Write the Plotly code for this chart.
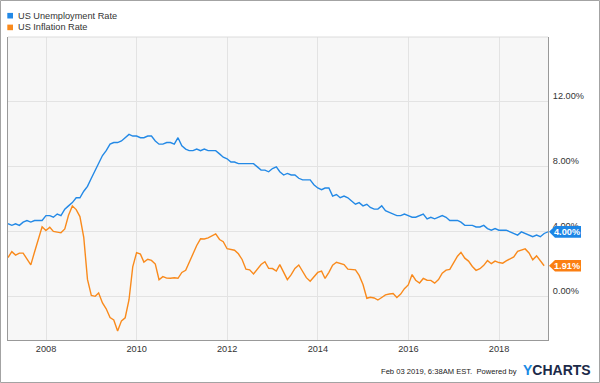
import pandas as pd
import plotly.graph_objects as go

# ---------------- data (monthly, month-end) ----------------
unemp_start, unemp_end = "2007-02-28", "2019-01-31"
infl_start, infl_end = "2007-02-28", "2018-12-31"

unemployment_rate = [
    4.5, 4.4, 4.5, 4.4, 4.6, 4.7, 4.6, 4.7, 4.7, 4.7, 5.0,              # 2007 Feb-Dec
    5.0, 4.9, 5.1, 5.0, 5.4, 5.6, 5.8, 6.1, 6.1, 6.5, 6.8, 7.3,         # 2008
    7.8, 8.3, 8.7, 9.0, 9.4, 9.5, 9.5, 9.6, 9.8, 10.0, 9.9, 9.9,        # 2009
    9.8, 9.8, 9.9, 9.9, 9.6, 9.4, 9.4, 9.5, 9.5, 9.4, 9.8, 9.3,         # 2010
    9.1, 9.0, 9.0, 9.1, 9.0, 9.1, 9.0, 9.0, 9.0, 8.8, 8.6, 8.5,         # 2011
    8.3, 8.3, 8.2, 8.2, 8.2, 8.2, 8.2, 8.0, 7.8, 7.8, 7.7, 7.9,         # 2012
    8.0, 7.7, 7.5, 7.6, 7.5, 7.5, 7.3, 7.2, 7.2, 7.2, 6.9, 6.7,         # 2013
    6.6, 6.7, 6.7, 6.2, 6.3, 6.1, 6.2, 6.1, 5.9, 5.7, 5.8, 5.6,         # 2014
    5.7, 5.5, 5.4, 5.4, 5.6, 5.3, 5.2, 5.1, 5.0, 5.0, 5.1, 5.0,         # 2015
    4.9, 4.9, 5.0, 5.1, 4.8, 4.9, 4.8, 4.9, 5.0, 4.9, 4.7, 4.7,         # 2016
    4.7, 4.6, 4.4, 4.4, 4.4, 4.3, 4.3, 4.4, 4.2, 4.1, 4.2, 4.1,         # 2017
    4.1, 4.1, 4.0, 3.9, 3.8, 4.0, 3.9, 3.8, 3.7, 3.8, 3.7, 3.9,         # 2018
    4.0,                                                                 # 2019 Jan
]

inflation_rate = [
    2.42, 2.78, 2.57, 2.69, 2.69, 2.36, 1.97, 2.76, 3.54, 4.31, 4.08,                 # 2007 Feb-Dec
    4.28, 4.03, 3.98, 3.94, 4.18, 5.02, 5.60, 5.37, 4.94, 3.66, 1.07, 0.09,           # 2008
    0.03, 0.24, -0.38, -0.74, -1.28, -1.43, -2.10, -1.48, -1.29, -0.18, 1.84, 2.72,   # 2009
    2.63, 2.14, 2.31, 2.24, 2.02, 1.05, 1.24, 1.15, 1.14, 1.17, 1.14, 1.50,           # 2010
    1.63, 2.11, 2.68, 3.16, 3.57, 3.56, 3.63, 3.77, 3.87, 3.53, 3.39, 2.96,           # 2011
    2.93, 2.87, 2.65, 2.30, 1.70, 1.66, 1.41, 1.69, 1.99, 2.16, 1.76, 1.74,           # 2012
    1.59, 1.98, 1.47, 1.06, 1.36, 1.75, 1.96, 1.52, 1.18, 0.96, 1.24, 1.50,           # 2013
    1.58, 1.13, 1.51, 1.95, 2.13, 2.07, 1.99, 1.70, 1.66, 1.66, 1.32, 0.76,           # 2014
    -0.09, -0.03, -0.07, -0.20, -0.04, 0.12, 0.17, 0.20, -0.04, 0.17, 0.50, 0.73,     # 2015
    1.37, 1.02, 0.85, 1.13, 1.02, 1.01, 0.84, 1.06, 1.46, 1.64, 1.69, 2.07,           # 2016
    2.50, 2.74, 2.38, 2.20, 1.87, 1.63, 1.73, 1.94, 2.23, 2.04, 2.20, 2.11,           # 2017
    2.07, 2.21, 2.36, 2.46, 2.80, 2.87, 2.95, 2.70, 2.28, 2.52, 2.18, 1.91,           # 2018
]

series_names = ["US Unemployment Rate", "US Inflation Rate"]
y_tick_values = [0, 4, 8, 12]
y_tick_labels = ["0.00%", "4.00%", "8.00%", "12.00%"]
footer_text = "Feb 03 2019, 6:38AM EST.  Powered by"

unemp_dates = pd.date_range(unemp_start, unemp_end, freq="ME")
infl_dates = pd.date_range(infl_start, infl_end, freq="ME")

# ---------------- style ----------------
BLUE = "#2389e6"
ORANGE = "#f98a1c"
BLUE_TAG = "#1c86e6"
ORANGE_TAG = "#fb7f12"
FONT = "Arial, Liberation Sans, sans-serif"
W_FIG, H_FIG = 600, 383
L, R, T, B = 8, 52, 37, 43
PW, PH = W_FIG - L - R, H_FIG - T - B


def fx(px):
    return (px - L) / PW


def fy(py):
    return (T + PH - py) / PH


fig = go.Figure()
fig.add_trace(go.Scatter(x=unemp_dates, y=unemployment_rate, mode="lines",
                         name=series_names[0], line=dict(color=BLUE, width=1.4)))
fig.add_trace(go.Scatter(x=infl_dates, y=inflation_rate, mode="lines",
                         name=series_names[1], line=dict(color=ORANGE, width=1.4)))

shapes = []
annotations = []

# outer frame of the whole picture
shapes.append(dict(type="rect", xref="paper", yref="paper",
                   x0=fx(0.5), x1=fx(599.5), y0=fy(382.5), y1=fy(0.5),
                   line=dict(color="#a3a3a3", width=1), layer="above"))
# light top border of plot
shapes.append(dict(type="line", xref="paper", yref="paper",
                   x0=0, x1=1, y0=1, y1=1,
                   line=dict(color="#dcdcdc", width=1), layer="above"))

# legend (squares + text)
for i, (name, col) in enumerate(zip(series_names, [BLUE, ORANGE])):
    cy = 15.7 + i * 11.7
    shapes.append(dict(type="rect", xref="paper", yref="paper",
                       x0=fx(7.3), x1=fx(13), y0=fy(cy + 2.8), y1=fy(cy - 2.8),
                       fillcolor=col, line=dict(width=0)))
    annotations.append(dict(text=name, xref="paper", yref="paper",
                            x=fx(16), y=fy(cy), xanchor="left", yanchor="middle",
                            showarrow=False, font=dict(family=FONT, size=9.2, color="#333333")))

# end-value tags
for vals, col in [(unemployment_rate, BLUE_TAG), (inflation_rate, ORANGE_TAG)]:
    last = vals[-1]
    shapes.append(dict(type="path", xref="paper", yref="y",
                       xsizemode="pixel", ysizemode="pixel", xanchor=1, yanchor=last,
                       path="M 1 0 L 7 5.8 L 33 5.8 L 33 -5.8 L 7 -5.8 Z",
                       fillcolor=col, line=dict(width=0), layer="above"))
    annotations.append(dict(text=f"<b>{last:.2f}%</b>", xref="paper", yref="y",
                            x=1, y=last, xanchor="left", yanchor="middle", xshift=4,
                            showarrow=False, font=dict(family=FONT, size=9.2, color="white")))

# footer
annotations.append(dict(text=footer_text, xref="paper", yref="paper",
                        x=fx(518.5), y=fy(371.5), xanchor="right", yanchor="middle",
                        showarrow=False, font=dict(family=FONT, size=7.6, color="#222222")))
annotations.append(dict(text="<b><span style='color:#1a8ae4'>Y</span>CHARTS</b>",
                        xref="paper", yref="paper",
                        x=fx(520.5), y=fy(370.3), xanchor="left", yanchor="middle",
                        showarrow=False, font=dict(family=FONT, size=14, color="#1b2a48")))

fig.update_layout(
    width=W_FIG, height=H_FIG,
    margin=dict(l=L, r=R, t=T, b=B, pad=0),
    paper_bgcolor="white", plot_bgcolor="#f7f7f7",
    showlegend=False,
    font=dict(family=FONT, size=9.2, color="#333333"),
    shapes=shapes, annotations=annotations,
    xaxis=dict(range=[unemp_start, unemp_end], type="date",
               tick0="2008-01-01", dtick="M24", tickformat="%Y",
               showgrid=True, gridcolor="#e3e3e3", gridwidth=1,
               showline=True, linecolor="#999999", linewidth=1,
               ticks="", tickfont=dict(size=9.2, color="#333333"),
               fixedrange=True),
    yaxis=dict(range=[-2.66, 16.0], side="right",
               tickmode="array", tickvals=y_tick_values, ticktext=y_tick_labels,
               showgrid=True, gridcolor="#e3e3e3", gridwidth=1, zeroline=False,
               showline=True, mirror=True, linecolor="#999999", linewidth=1,
               ticks="", ticklabelstandoff=2, ticklabelshift=-6,
               tickfont=dict(size=9.2, color="#333333"),
               fixedrange=True),
)

fig.write_html("out.html", config={"displayModeBar": False},
               post_script="document.body.style.margin='0';document.body.style.padding='0';")
